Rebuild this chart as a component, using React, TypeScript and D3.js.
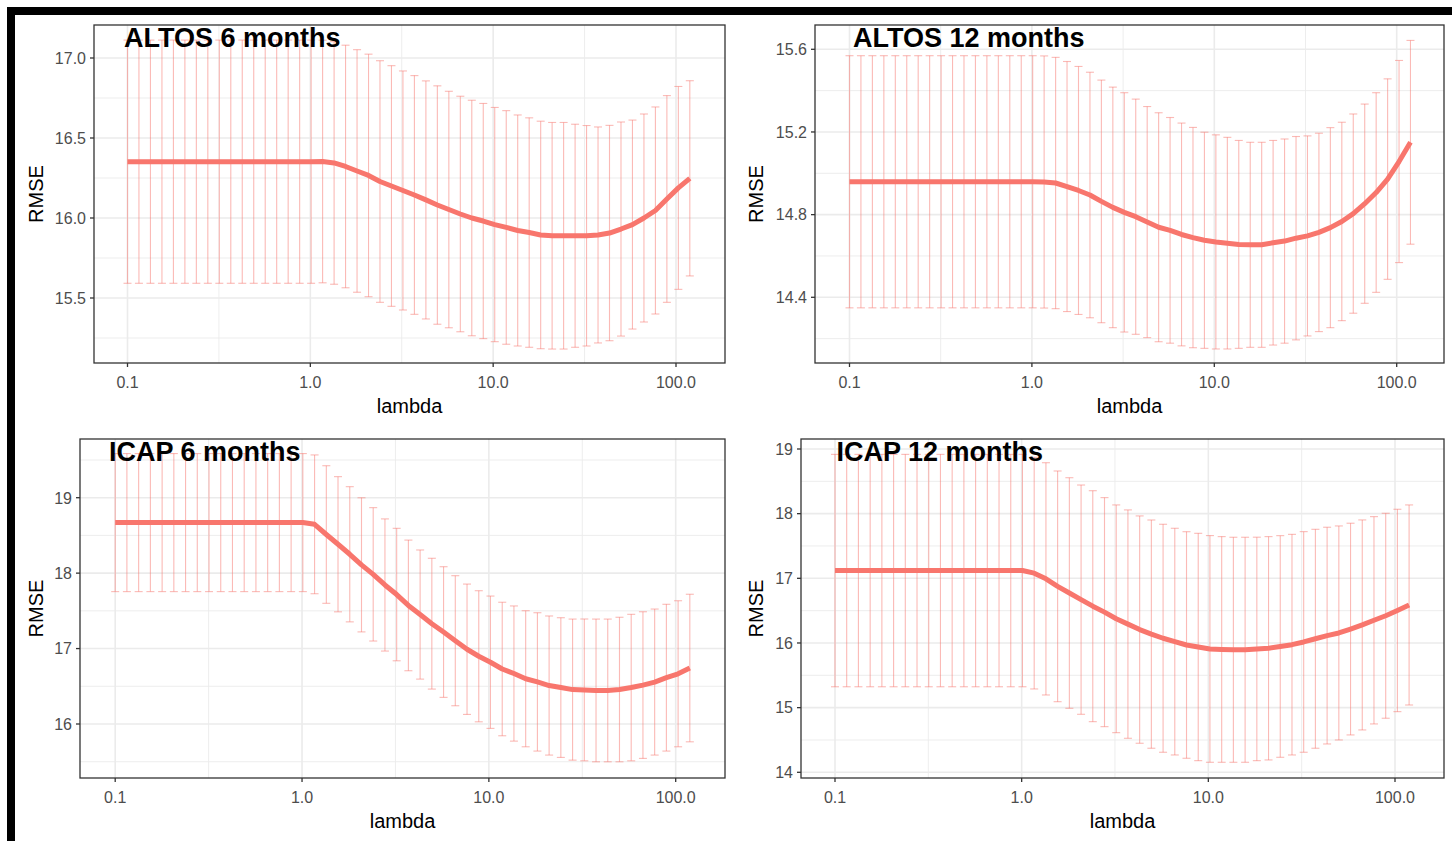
import React from "react";
import * as d3 from "d3";

// lambda grid (same for all four fits)
const lambda = [
  0.1, 0.1155, 0.1335, 0.1543, 0.1783, 0.206, 0.238, 0.275, 0.3178, 0.3672,
  0.4243, 0.4903, 0.5665, 0.6546, 0.7564, 0.8741, 1.01, 1.167, 1.349, 1.558,
  1.801, 2.081, 2.404, 2.778, 3.21, 3.709, 4.286, 4.952, 5.722, 6.612,
  7.64, 8.828, 10.2, 11.79, 13.62, 15.74, 18.19, 21.01, 24.28, 28.06,
  32.42, 37.46, 43.28, 50.02, 57.79, 66.78, 77.16, 89.16, 103.0, 119.0,
];

const altos6Rmse = [
  16.352, 16.352, 16.352, 16.352, 16.352, 16.352, 16.352, 16.352, 16.352, 16.352,
  16.352, 16.352, 16.352, 16.352, 16.352, 16.352, 16.352, 16.353, 16.344, 16.322,
  16.294, 16.266, 16.228, 16.2, 16.172, 16.144, 16.113, 16.081, 16.053, 16.025,
  16.0, 15.981, 15.959, 15.941, 15.922, 15.909, 15.894, 15.889, 15.889, 15.889,
  15.889, 15.894, 15.906, 15.931, 15.959, 16.0, 16.047, 16.119, 16.188, 16.248,
];
const altos6Sd = [
  0.76, 0.76, 0.76, 0.76, 0.76, 0.76, 0.76, 0.76, 0.76, 0.76,
  0.76, 0.76, 0.76, 0.76, 0.76, 0.76, 0.76, 0.758, 0.758, 0.758,
  0.758, 0.758, 0.755, 0.752, 0.747, 0.746, 0.744, 0.745, 0.739, 0.736,
  0.736, 0.735, 0.732, 0.73, 0.722, 0.717, 0.711, 0.708, 0.708, 0.697,
  0.689, 0.675, 0.673, 0.669, 0.653, 0.65, 0.647, 0.646, 0.634, 0.61,
];

const altos12Rmse = [
  14.959, 14.959, 14.959, 14.959, 14.959, 14.959, 14.959, 14.959, 14.959, 14.959,
  14.959, 14.959, 14.959, 14.959, 14.959, 14.959, 14.959, 14.958, 14.953, 14.936,
  14.917, 14.895, 14.864, 14.835, 14.811, 14.79, 14.764, 14.739, 14.724, 14.704,
  14.689, 14.676, 14.668, 14.662, 14.656, 14.654, 14.654, 14.664, 14.672, 14.686,
  14.697, 14.714, 14.737, 14.767, 14.805, 14.853, 14.907, 14.972, 15.057, 15.15,
];
const altos12Sd = [
  0.61, 0.61, 0.61, 0.61, 0.61, 0.61, 0.61, 0.61, 0.61, 0.61,
  0.61, 0.61, 0.61, 0.61, 0.61, 0.61, 0.61, 0.61, 0.608, 0.605,
  0.6, 0.594, 0.587, 0.582, 0.579, 0.569, 0.559, 0.554, 0.546, 0.539,
  0.533, 0.523, 0.518, 0.512, 0.503, 0.496, 0.496, 0.495, 0.494, 0.492,
  0.484, 0.48, 0.484, 0.48, 0.482, 0.482, 0.483, 0.485, 0.489, 0.493,
];

const icap6Rmse = [
  18.67, 18.67, 18.67, 18.67, 18.67, 18.67, 18.67, 18.67, 18.67, 18.67,
  18.67, 18.67, 18.67, 18.67, 18.67, 18.67, 18.67, 18.647, 18.512, 18.383,
  18.25, 18.11, 17.984, 17.843, 17.716, 17.572, 17.451, 17.33, 17.219, 17.104,
  16.991, 16.898, 16.819, 16.729, 16.669, 16.6, 16.558, 16.51, 16.483, 16.456,
  16.452, 16.445, 16.445, 16.457, 16.483, 16.516, 16.556, 16.614, 16.666, 16.742,
];
const icap6Sd = [
  0.915, 0.915, 0.915, 0.915, 0.915, 0.915, 0.915, 0.915, 0.915, 0.915,
  0.915, 0.915, 0.915, 0.915, 0.915, 0.915, 0.915, 0.92, 0.912, 0.896,
  0.896, 0.889, 0.884, 0.876, 0.878, 0.866, 0.856, 0.867, 0.866, 0.862,
  0.864, 0.869, 0.877, 0.885, 0.896, 0.902, 0.917, 0.922, 0.926, 0.935,
  0.94, 0.946, 0.946, 0.958, 0.971, 0.972, 0.968, 0.973, 0.968, 0.978,
];

const icap12Rmse = [
  17.12, 17.12, 17.12, 17.12, 17.12, 17.12, 17.12, 17.12, 17.12, 17.12,
  17.12, 17.12, 17.12, 17.12, 17.12, 17.12, 17.12, 17.08, 16.992, 16.876,
  16.773, 16.67, 16.569, 16.477, 16.374, 16.292, 16.207, 16.137, 16.073, 16.021,
  15.969, 15.938, 15.908, 15.9, 15.895, 15.895, 15.908, 15.918, 15.946, 15.974,
  16.016, 16.065, 16.114, 16.155, 16.215, 16.279, 16.351, 16.421, 16.503, 16.588,
];
const icap12Sd = [
  1.797, 1.797, 1.797, 1.797, 1.797, 1.797, 1.797, 1.797, 1.797, 1.797,
  1.797, 1.797, 1.797, 1.797, 1.797, 1.797, 1.797, 1.791, 1.796, 1.784,
  1.783, 1.773, 1.786, 1.771, 1.761, 1.766, 1.758, 1.765, 1.763, 1.753,
  1.752, 1.758, 1.753, 1.745, 1.74, 1.74, 1.728, 1.727, 1.714, 1.706,
  1.706, 1.693, 1.676, 1.655, 1.637, 1.624, 1.603, 1.585, 1.565, 1.547,
];

// axis breaks
const xTicks = [0.1, 1, 10, 100];
const xTickLabels = ["0.1", "1.0", "10.0", "100.0"];
const xMinor = [0.3162, 3.162, 31.62];

const altos6YTicks = [15.5, 16.0, 16.5, 17.0];
const altos6YMinor = [15.25, 15.75, 16.25, 16.75];
const altos12YTicks = [14.4, 14.8, 15.2, 15.6];
const altos12YMinor = [14.2, 14.6, 15.0, 15.4];
const icap6YTicks = [16, 17, 18, 19];
const icap6YMinor = [15.5, 16.5, 17.5, 18.5, 19.5];
const icap12YTicks = [14, 15, 16, 17, 18, 19];
const icap12YMinor = [14.5, 15.5, 16.5, 17.5, 18.5];

const FONT = "'Liberation Sans', Arial, Helvetica, sans-serif";
const RED = "#F8766D";

const panels = [
  {
    title: "ALTOS 6 months", rmse: altos6Rmse, sd: altos6Sd,
    yTicks: altos6YTicks, yMinor: altos6YMinor, yFmt: ".1f",
    box: [94, 25, 725, 363], xRange: [127.5, 676], yDom: [15.5, 17.0], yRange: [298, 58],
    titleX: 124, axisTitleX: 43,
  },
  {
    title: "ALTOS 12 months", rmse: altos12Rmse, sd: altos12Sd,
    yTicks: altos12YTicks, yMinor: altos12YMinor, yFmt: ".1f",
    box: [815, 25, 1444, 363], xRange: [849.5, 1396.7], yDom: [14.4, 15.6], yRange: [297.3, 49.3],
    titleX: 853, axisTitleX: 763,
  },
  {
    title: "ICAP 6 months", rmse: icap6Rmse, sd: icap6Sd,
    yTicks: icap6YTicks, yMinor: icap6YMinor, yFmt: "d",
    box: [80, 439, 725, 778], xRange: [115.2, 675.7], yDom: [16, 19], yRange: [724, 497.7],
    titleX: 109, axisTitleX: 43,
  },
  {
    title: "ICAP 12 months", rmse: icap12Rmse, sd: icap12Sd,
    yTicks: icap12YTicks, yMinor: icap12YMinor, yFmt: "d",
    box: [801, 439, 1444, 778], xRange: [835, 1395], yDom: [14, 19], yRange: [772.3, 449],
    titleX: 836.5, axisTitleX: 763,
  },
];

function Panel({ p }: { p: (typeof panels)[number] }) {
  const [left, top, right, bottom] = p.box;
  const x = d3.scaleLog().domain([0.1, 100]).range(p.xRange);
  const y = d3.scaleLinear().domain(p.yDom).range(p.yRange);
  const fmt = d3.format(p.yFmt);
  const line = d3
    .line<number>()
    .x((_, i) => x(lambda[i]))
    .y((d) => y(d));
  const cap = 4;

  return (
    <g>
      <rect x={left} y={top} width={right - left} height={bottom - top} fill="#fff" />
      {/* minor grid */}
      {xMinor.map((v) => (
        <line key={"xm" + v} x1={x(v)} x2={x(v)} y1={top} y2={bottom} stroke="#EBEBEB" strokeWidth={0.9} />
      ))}
      {p.yMinor.map((v) => (
        <line key={"ym" + v} x1={left} x2={right} y1={y(v)} y2={y(v)} stroke="#EBEBEB" strokeWidth={0.9} />
      ))}
      {/* major grid */}
      {xTicks.map((v) => (
        <line key={"xg" + v} x1={x(v)} x2={x(v)} y1={top} y2={bottom} stroke="#EBEBEB" strokeWidth={1.6} />
      ))}
      {p.yTicks.map((v) => (
        <line key={"yg" + v} x1={left} x2={right} y1={y(v)} y2={y(v)} stroke="#EBEBEB" strokeWidth={1.6} />
      ))}
      {/* error bars */}
      <g stroke={RED} strokeOpacity={0.5} strokeWidth={1.1} fill="none">
        {p.rmse.map((m, i) => {
          const cx = x(lambda[i]);
          const yLo = y(m - p.sd[i]);
          const yHi = y(m + p.sd[i]);
          return (
            <g key={i}>
              <line x1={cx} x2={cx} y1={yLo} y2={yHi} />
              <line x1={cx - cap} x2={cx + cap} y1={yHi} y2={yHi} />
              <line x1={cx - cap} x2={cx + cap} y1={yLo} y2={yLo} />
            </g>
          );
        })}
      </g>
      {/* mean RMSE */}
      <path d={line(p.rmse) || ""} fill="none" stroke={RED} strokeWidth={5} strokeLinejoin="round" />
      <rect x={left} y={top} width={right - left} height={bottom - top} fill="none" stroke="#333333" strokeWidth={1.3} />
      {/* x axis */}
      {xTicks.map((v, i) => (
        <g key={"xt" + v}>
          <line x1={x(v)} x2={x(v)} y1={bottom} y2={bottom + 4} stroke="#333333" strokeWidth={1.3} />
          <text x={x(v)} y={bottom + 25} textAnchor="middle" fontSize={16} fill="#4D4D4D" fontFamily={FONT}>
            {xTickLabels[i]}
          </text>
        </g>
      ))}
      {/* y axis */}
      {p.yTicks.map((v) => (
        <g key={"yt" + v}>
          <line x1={left - 4} x2={left} y1={y(v)} y2={y(v)} stroke="#333333" strokeWidth={1.3} />
          <text x={left - 8} y={y(v) + 5.8} textAnchor="end" fontSize={16} fill="#4D4D4D" fontFamily={FONT}>
            {fmt(v)}
          </text>
        </g>
      ))}
      <text x={(left + right) / 2} y={bottom + 50} textAnchor="middle" fontSize={20} fill="#000" fontFamily={FONT}>
        lambda
      </text>
      <text
        transform={`translate(${p.axisTitleX},${(top + bottom) / 2}) rotate(-90)`}
        textAnchor="middle"
        fontSize={20}
        fill="#000"
        fontFamily={FONT}
      >
        RMSE
      </text>
      <text x={p.titleX} y={top + 21.7} fontSize={27} fontWeight="bold" fill="#000" fontFamily={FONT}>
        {p.title}
      </text>
    </g>
  );
}

export default function App() {
  const W = 1452;
  const H = 841;
  return (
    <div style={{ position: "absolute", left: 0, top: 0 }}>
      <svg width={W} height={H} viewBox={`0 0 ${W} ${H}`} style={{ display: "block", background: "#fff" }}>
        <rect x={0} y={0} width={W} height={H} fill="#fff" />
        {panels.map((p) => (
          <Panel key={p.title} p={p} />
        ))}
        <rect x={7} y={7} width={W - 7} height={8} fill="#000" />
        <rect x={7} y={7} width={8} height={H - 7} fill="#000" />
      </svg>
    </div>
  );
}
